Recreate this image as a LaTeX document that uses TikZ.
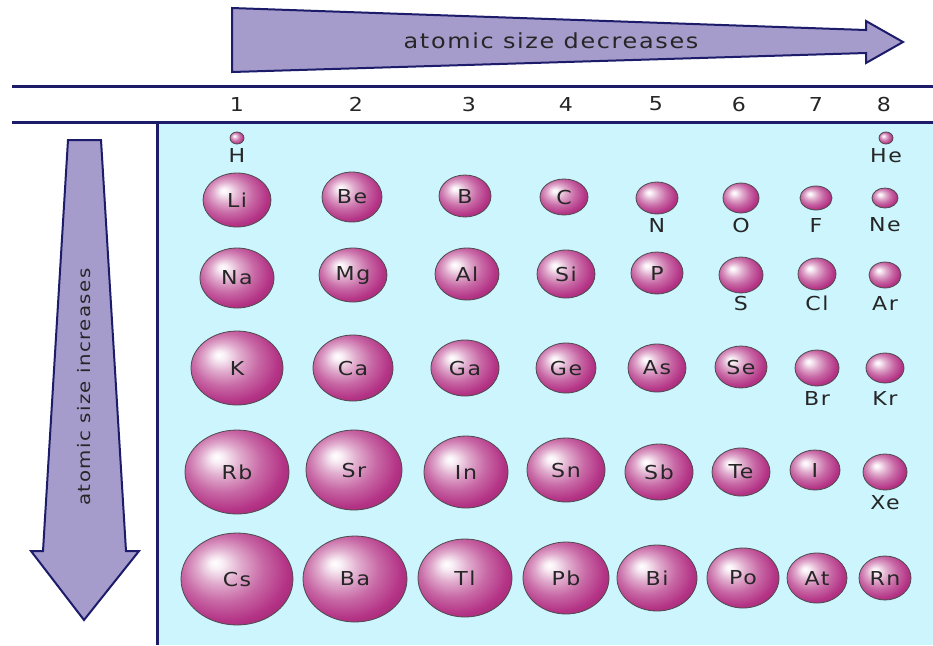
\documentclass[tikz,border=0pt]{standalone}
\usepackage{fontspec}
\setmainfont{DejaVu Sans}[LetterSpace=8,FakeStretch=1.15]
\usetikzlibrary{shapes.geometric}
\definecolor{Navy}{HTML}{1C1C6B}
\definecolor{Lilac}{HTML}{A59CCB}
\definecolor{Sky}{HTML}{CCF5FE}
\definecolor{Plum}{HTML}{B0287F}
\pgfdeclareradialshading{atomball}{\pgfpoint{-10bp}{9bp}}{color(0bp)=(white);
  color(3bp)=(Plum!8!white); color(10bp)=(Plum!40!white);
  color(18bp)=(Plum!70!white); color(27bp)=(Plum!95!white);
  color(36bp)=(Plum!85!black); color(50bp)=(Plum!70!black)}

\begin{document}
\begin{tikzpicture}[x=0.5pt,y=-0.5pt,
    atom/.style={ellipse,inner sep=0pt,shading=atomball,draw=black!70,
      line width=0.4pt,font=\fontsize{9.6}{11}\selectfont,text=black!85},
    sym/.style={inner sep=0pt,font=\fontsize{9.6}{11}\selectfont,text=black!85},
    bigarrow/.style={fill=Lilac,draw=Navy,line width=1pt,line join=miter},
    rule/.style={Navy,line width=1.5pt}
  ]
  \useasboundingbox (0,0) rectangle (933,645);
  \fill[white] (0,0) rectangle (933,645);
  \fill[Sky] (157,122) rectangle (933,645);

  % trend arrows
  \draw[bigarrow] (232,8) -- (866,30) -- (866,21) -- (903,42) -- (866,63)
    -- (866,53) -- (232,72) -- cycle;
  \node[sym,font=\fontsize{10.4}{12}\selectfont] (dec) at (551,41)
    {atomic size decreases};
  \draw[bigarrow] (68,140) -- (101,140) -- (126,551) -- (139,551) -- (84,620)
    -- (31,551) -- (43,551) -- cycle;
  \node[sym,rotate=90,font=\fontsize{8.6}{10}\selectfont] (inc) at (84,387)
    {atomic size increases};

  % header rules and group numbers
  \draw[rule] (12,86) -- (933,86);
  \draw[rule] (12,122) -- (933,122);
  \draw[rule] (157,122) -- (157,645);
  \foreach \g/\x in {1/237,2/356,3/469,4/566,5/656,6/739,7/816,8/884}
    \node[sym] (g\g) at (\x,104) {\g};

  % atoms with the symbol inside
  \foreach \n/\x/\y/\w/\h in {Li/237/200/34/27,Be/352/197/30/25,
      B/465/196/26/21,C/564/197/24/18,
      Na/237/278/37/30,Mg/353/275/34/27,Al/467/274/32/26,Si/566/274/29/24,
      P/657/273/26/21,
      K/237/368/46/37,Ca/353/368/40/33,Ga/465/368/34/28,Ge/566/368/30/25,
      As/657/368/29/24,Se/741/367/26/21,
      Rb/237/472/52/42,Sr/354/470/48/40,In/466/472/42/36,Sn/566/470/39/32,
      Sb/659/472/34/28,Te/741/472/29/24,I/815/470/25/20,
      Cs/237/579/56/46,Ba/355/579/52/43,Tl/465/578/47/39,Pb/566/578/43/36,
      Bi/657/578/40/33,Po/743/578/36/30,At/817/578/30/25,Rn/885/578/26/22}
    \node[atom,minimum width=\w pt,minimum height=\h pt] (\n) at (\x,\y) {\n};

  % atoms with the symbol underneath
  \foreach \n/\x/\y/\w/\h/\ly in {H/237/138/7/6/155,He/886/138/7/6/156,
      N/657/198/21/16/225,O/741/198/18/15/225,F/816/198/16/12/225,
      Ne/885/198/13/10/225,
      S/741/275/22/18/303,Cl/817/274/19/16/303,Ar/885/275/16/13/303,
      Br/817/368/22/18/398,Kr/885/368/19/15/398,Xe/885/472/22/18/503}
  {
    \node[atom,minimum width=\w pt,minimum height=\h pt] (\n) at (\x,\y) {};
    \node[sym] (\n-name) at (\x,\ly) {\n};
  }
\end{tikzpicture}
\end{document}
